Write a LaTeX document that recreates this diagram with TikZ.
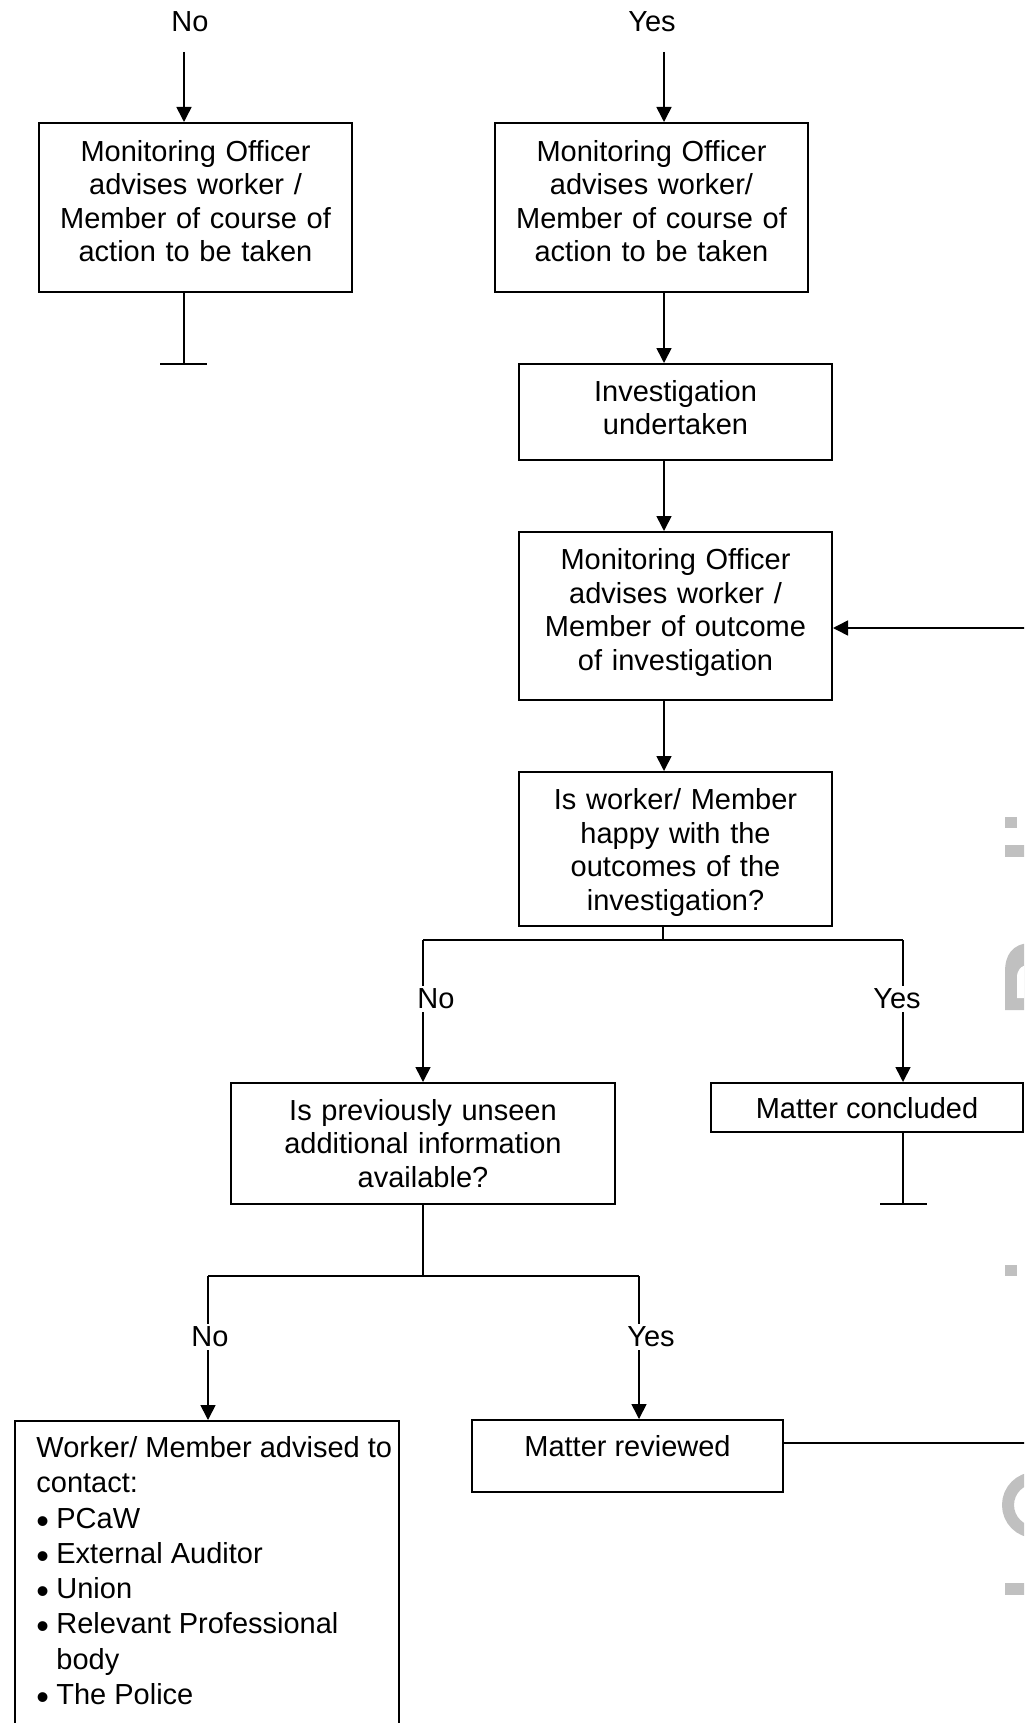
\documentclass[tikz,border=0pt]{standalone}
\usepackage{fontspec}
\setmainfont{Liberation Sans}
\usetikzlibrary{arrows.meta}
\newcommand\boxfont{\fontsize{14.5}{16.7}\selectfont}
\newcommand\listfont{\fontsize{14.5}{17.65}\selectfont}
\newcommand\blt{\makebox[10pt][l]{\raisebox{-2.5pt}{\fontsize{18}{18}\selectfont•}}}
\newcommand\dnrule[1]{\rule[-#1]{0pt}{0pt}}
\definecolor{wm}{RGB}{192,192,192}
\begin{document}
\begin{tikzpicture}[x=0.5pt,y=-0.5pt,
  box/.style={draw, line width=1pt, inner sep=0pt, align=center, font=\boxfont},
  con/.style={line width=0.8pt},
  arr/.style={line width=0.8pt, -{Triangle[length=7.5pt,width=7.5pt]}},
  lbl/.style={font=\boxfont, inner sep=1.6pt, fill=white},
  toplbl/.style={font=\boxfont, inner sep=0pt}]
\clip (0,0) rectangle (1024,1723);
\fill[white] (0,0) rectangle (1024,1723);

% boxes
\node[box, minimum width=156.5pt, minimum height=84.5pt, text width=150pt] (b1) at (195.5,207.5)
  {Monitoring Officer\\advises worker /\\Member of course of\\action to be taken\dnrule{6.5pt}};
\node[box, minimum width=156.5pt, minimum height=84.5pt, text width=150pt] (b2) at (651.5,207.5)
  {Monitoring Officer\\advises worker/\\Member of course of\\action to be taken\dnrule{6.5pt}};
\node[box, minimum width=156.5pt, minimum height=48pt, text width=150pt] (b3) at (675.5,412)
  {Investigation\\undertaken\dnrule{4.5pt}};
\node[box, minimum width=156.5pt, minimum height=84pt, text width=150pt] (b4) at (675.5,616)
  {Monitoring Officer\\advises worker /\\Member of outcome\\of investigation\dnrule{6.5pt}};
\node[box, minimum width=156.5pt, minimum height=77pt, text width=150pt] (b5) at (675.5,849)
  {\rule{0pt}{14pt}Is worker/ Member\\happy with the\\outcomes of the\\investigation?};
\node[box, minimum width=192pt, minimum height=60.5pt, text width=185pt] (b6) at (423,1143.5)
  {Is previously unseen\\additional information\\available?};
\node[box, minimum width=156pt, minimum height=24.5pt, text height=11pt, text depth=0pt] (b7) at (867,1107.5)
  {Matter concluded};
\node[box, minimum width=155.5pt, minimum height=36pt, text height=11pt, text depth=11pt] (b9) at (627.5,1456)
  {Matter reviewed};
\node[draw, line width=1pt, inner sep=0pt, minimum width=192pt, minimum height=200pt, anchor=north west] (b8) at (14,1420) {};
\node[anchor=north west, align=left, inner sep=0pt, font=\listfont] (b8t) at (36,1436)
  {\mbox{Worker/ Member advised to}\\
   contact:\\
   \blt PCaW\\
   \blt External Auditor\\
   \blt Union\\
   \blt Relevant Professional\\
   \hspace*{10pt}body\\
   \blt The Police};

% top labels and arrows
\node[toplbl] (lNo0) at (190,22) {No};
\node[toplbl] (lYes0) at (652,22) {Yes};
\coordinate (aNo) at (184,52);
\coordinate (aYes) at (664,52);
\draw[arr] (aNo) -- (aNo |- b1.north);
\draw[arr] (aYes) -- (aYes |- b2.north);

% dead end under b1
\coordinate (e1) at (184,364);
\draw[con] (e1 |- b1.south) -- (e1);
\draw[con] ([xshift=-12pt]e1) -- ([xshift=11.5pt]e1);

% main column
\draw[arr] (aYes |- b2.south) -- (aYes |- b3.north);
\draw[arr] (aYes |- b3.south) -- (aYes |- b4.north);
\draw[arr] (aYes |- b4.south) -- (aYes |- b5.north);

% split under b5
\coordinate (s1) at (663,940);
\coordinate (s1L) at (423,940);
\coordinate (s1R) at (903,940);
\draw[con] (s1 |- b5.south) -- (s1);
\draw[con] (s1L) -- (s1R);
\draw[arr] (s1L) -- (s1L |- b6.north);
\draw[arr] (s1R) -- (s1R |- b7.north);
\node[lbl] (lNo1) at (436,999) {No};
\node[lbl] (lYes1) at (897,999) {Yes};

% dead end under b7
\coordinate (e2) at (903,1204);
\draw[con] (e2 |- b7.south) -- (e2);
\draw[con] ([xshift=-11.5pt]e2) -- ([xshift=12pt]e2);

% split under b6
\coordinate (s2) at (423,1276);
\coordinate (s2L) at (208,1276);
\coordinate (s2R) at (639,1276);
\draw[con] (s2 |- b6.south) -- (s2);
\draw[con] (s2L) -- (s2R);
\draw[arr] (s2L) -- (s2L |- b8.north);
\draw[arr] (s2R) -- (s2R |- b9.north);
\node[lbl] (lNo2) at (210,1337) {No};
\node[lbl] (lYes2) at (651,1337) {Yes};

% feedback loop (vertical part lies beyond the page edge)
\coordinate (fb1) at (1040,1443);
\coordinate (fb2) at (1040,628);
\draw[arr] (b9.east |- fb1) -- (fb1) -- (fb2) -- (fb2 -| b4.east);

% watermark fragments at the right edge
\fill[wm] (1005,817) rectangle (1017,828);
\fill[wm] (1005,845) rectangle (1030,857);
\fill[wm] (1005,1010) -- (1005,972) .. controls (1005,955) and (1012,944) .. (1030,943)
  -- (1030,1010) -- cycle;
\fill[white] (1017,998) -- (1017,978) .. controls (1017,970) and (1020,966) .. (1030,964)
  -- (1030,998) -- cycle;
\fill[wm] (1005,1265) rectangle (1017,1276);
\draw[wm, line width=6pt] (1035,1505) circle[radius=27];
\fill[wm] (1005,1583) rectangle (1030,1595);
\end{tikzpicture}
\end{document}
